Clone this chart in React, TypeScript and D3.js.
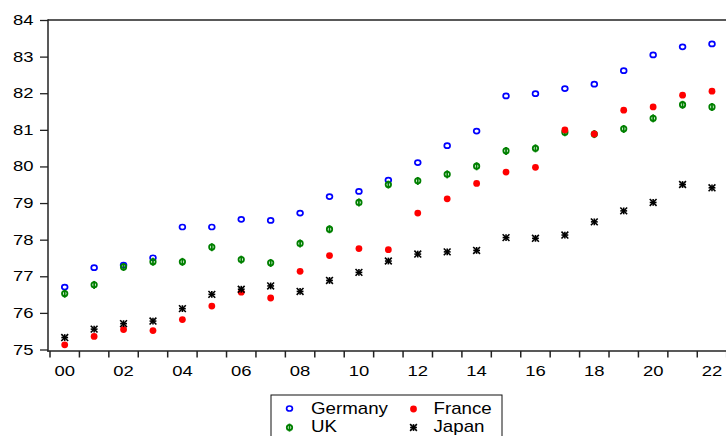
import React from "react";
import * as d3 from "d3";

const years = d3.range(2000, 2023);
const germany = [76.72, 77.25, 77.32, 77.52, 78.36, 78.36, 78.57, 78.54, 78.74, 79.19, 79.33, 79.64, 80.12, 80.58, 80.98, 81.94, 82.0, 82.14, 82.26, 82.63, 83.06, 83.28, 83.36];
const uk = [76.54, 76.78, 77.27, 77.41, 77.41, 77.81, 77.47, 77.38, 77.91, 78.3, 79.03, 79.52, 79.62, 79.8, 80.02, 80.44, 80.51, 80.95, 80.9, 81.04, 81.33, 81.7, 81.64];
const france = [75.14, 75.37, 75.56, 75.53, 75.83, 76.2, 76.58, 76.42, 77.15, 77.58, 77.77, 77.74, 78.74, 79.13, 79.55, 79.86, 79.99, 81.01, 80.9, 81.55, 81.64, 81.96, 82.07];
const japan = [75.34, 75.57, 75.72, 75.79, 76.13, 76.52, 76.66, 76.75, 76.6, 76.9, 77.12, 77.43, 77.62, 77.68, 77.72, 78.07, 78.05, 78.14, 78.5, 78.8, 79.03, 79.52, 79.43];
const yTicks = [75, 76, 77, 78, 79, 80, 81, 82, 83, 84];
const xLabelYears = [2000, 2002, 2004, 2006, 2008, 2010, 2012, 2014, 2016, 2018, 2020, 2022];

const W = 726;
const H = 436;
const left = 48;
const right = 727;
const top = 20.5;
const bottom = 351;

const BLUE = "#0000ff";
const RED = "#ff0000";
const GREEN = "#008000";
const FONT = "'Liberation Sans', Arial, sans-serif";

function Marker({ kind, x, y }: { kind: string; x: number; y: number }) {
  if (kind === "germany") {
    return <ellipse cx={x} cy={y} rx={2.9} ry={2.5} fill="none" stroke={BLUE} strokeWidth={1.7} />;
  }
  if (kind === "france") {
    return <circle cx={x} cy={y} r={3.4} fill={RED} />;
  }
  if (kind === "uk") {
    return (
      <g stroke={GREEN} strokeWidth={1.8} fill="none">
        <circle cx={x} cy={y} r={2.7} />
        <line x1={x} x2={x} y1={y - 3.9} y2={y + 4.1} />
      </g>
    );
  }
  const s = 3.4;
  return (
    <g stroke="#000" strokeWidth={1.6}>
      <line x1={x - s} x2={x + s} y1={y} y2={y} />
      <line x1={x} x2={x} y1={y - s} y2={y + s} />
      <line x1={x - s} x2={x + s} y1={y - s} y2={y + s} />
      <line x1={x - s} x2={x + s} y1={y + s} y2={y - s} />
    </g>
  );
}

function StretchText({ x, y, anchor, size, sx, children }: any) {
  return (
    <g transform={`translate(${x},${y}) scale(${sx},1)`}>
      <text x={0} y={0} textAnchor={anchor} fontSize={size} fontFamily={FONT} fill="#000">
        {children}
      </text>
    </g>
  );
}

export default function App() {
  const x = d3.scaleLinear().domain([1999.5, 2022.5]).range([50, 726.7]);
  const y = d3.scaleLinear().domain([75, 84]).range([350, 20.5]);
  const tickYears = d3.range(1999.5, 2023, 1);

  const series = [
    { key: "germany", data: germany },
    { key: "uk", data: uk },
    { key: "france", data: france },
    { key: "japan", data: japan },
  ];

  return (
    <svg width={W} height={H} style={{ position: "fixed", left: 0, top: 0, background: "#fff" }}>
      <rect x={0} y={0} width={W} height={H} fill="#fff" />
      <line x1={left} x2={right} y1={top - 0.5} y2={top - 0.5} stroke="#222" strokeWidth={1.5} />
      <line x1={left} x2={left} y1={top - 1.2} y2={bottom + 0.7} stroke="#222" strokeWidth={1.5} />
      <line x1={left - 0.7} x2={right} y1={bottom} y2={bottom} stroke="#222" strokeWidth={1.5} />
      {yTicks.map((t) => (
        <g key={t}>
          <line x1={left - 8} x2={left} y1={y(t)} y2={y(t)} stroke="#222" strokeWidth={1.3} />
          <StretchText x={33.5} y={y(t) + 4.5} anchor="end" size={15} sx={1.23}>
            {t}
          </StretchText>
        </g>
      ))}
      {tickYears.map((t) => (
        <line key={t} x1={x(t)} x2={x(t)} y1={bottom} y2={bottom + 6.5} stroke="#222" strokeWidth={1.5} />
      ))}
      {xLabelYears.map((t) => (
        <StretchText key={t} x={x(t)} y={375.5} anchor="middle" size={15} sx={1.23}>
          {String(t % 100).padStart(2, "0")}
        </StretchText>
      ))}
      {series.map((s) => (
        <g key={s.key}>
          {s.data.map((v, i) => (
            <Marker key={i} kind={s.key} x={x(years[i])} y={y(v)} />
          ))}
        </g>
      ))}
      <rect x={271} y={395} width={231} height={60} fill="#fff" stroke="#111" strokeWidth={1} />
      <Marker kind="germany" x={289.5} y={408.5} />
      <StretchText x={311} y={413.5} anchor="start" size={16} sx={1.17}>Germany</StretchText>
      <Marker kind="uk" x={289.5} y={427.5} />
      <StretchText x={311} y={431.5} anchor="start" size={16} sx={1.17}>UK</StretchText>
      <Marker kind="france" x={413.5} y={409} />
      <StretchText x={433.5} y={413.5} anchor="start" size={16} sx={1.17}>France</StretchText>
      <Marker kind="japan" x={413.5} y={427.5} />
      <StretchText x={433.5} y={431.5} anchor="start" size={16} sx={1.17}>Japan</StretchText>
    </svg>
  );
}
